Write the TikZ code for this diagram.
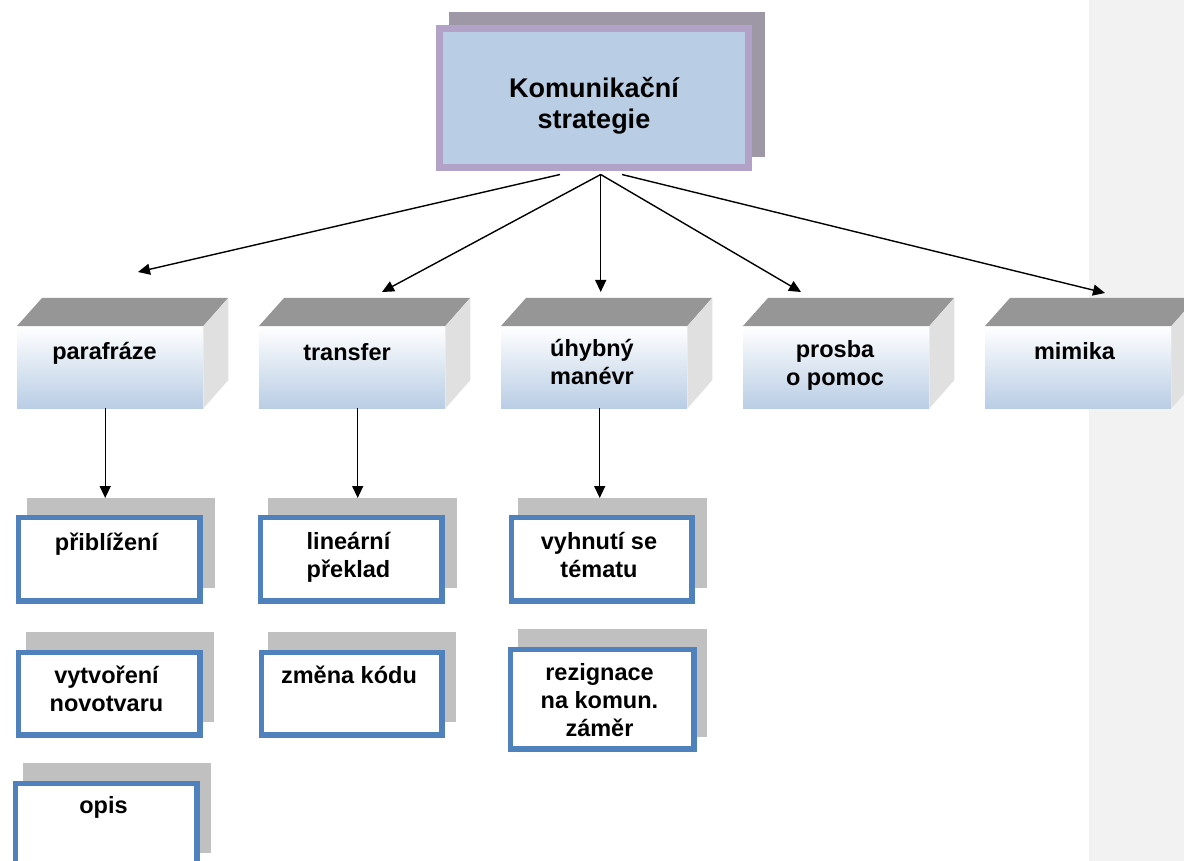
\documentclass[tikz,border=0pt]{standalone}
\usepackage{fontspec}
\setmainfont{Liberation Sans}
\usetikzlibrary{arrows.meta}
\definecolor{topface}{RGB}{150,150,150}
\definecolor{sideface}{RGB}{224,224,224}
\definecolor{lblue}{RGB}{185,205,229}
\definecolor{purp}{RGB}{178,162,199}
\definecolor{tshadow}{RGB}{158,152,166}
\definecolor{bshadow}{RGB}{192,192,192}
\definecolor{bborder}{RGB}{79,129,189}
\definecolor{panel}{RGB}{242,242,242}
\newcommand\lrule{\rule{0pt}{25pt}}
\begin{document}
\begin{tikzpicture}[x=1pt,y=-1pt,
  arr/.style={line width=1.4pt, -{Triangle[length=12pt,width=11pt]}},
  lbl/.style={inner sep=0pt, anchor=north, align=center, font=\bfseries\fontsize{23.5pt}{28pt}\selectfont},
  front/.style={inner sep=0pt, minimum width=186pt, minimum height=82pt, anchor=north west, top color=white, bottom color=lblue},
  bluebox/.style={draw=bborder, line width=5.5pt, fill=white, inner sep=0pt, anchor=north west},
  shadowbox/.style={fill=bshadow, inner sep=0pt, anchor=north west},
  topf/.style={fill=topface},
  sidef/.style={fill=sideface},
]
\clip (0,0) rectangle (1184,861);
\fill[white] (0,0) rectangle (1184,861);
\fill[panel] (1089,0) rectangle (1184,861);

% top box
\node[fill=tshadow, inner sep=0pt, anchor=north west, minimum width=316pt, minimum height=145pt] (topsh) at (449,12) {};
\node[draw=purp, line width=7pt, fill=lblue, inner sep=0pt, minimum width=309pt, minimum height=139pt] (top) at (594,98) {};
\node[inner sep=0pt, anchor=north, align=center, font=\bfseries\fontsize{27pt}{31pt}\selectfont] (top-t) at (594,68) {\rule{0pt}{29pt}Komunikační\\strategie};

% 3D boxes
\foreach \n/\x in {parafraze/17, transfer/259, uhybny/501, prosba/743, mimika/985}{
  \node[front] (\n) at (\x,326) {};
  \fill[topf] (\n.north west) -- ++(25,-28) -- ++(186,0) -- (\n.north east) -- cycle;
  \fill[sidef] (\n.north east) -- ++(25,-28) -- ++(0,82) -- (\n.south east) -- cycle;
}
\node[lbl] (parafraze-t) at (104.5,334) {\lrule parafráze};
\node[lbl] (transfer-t) at (347,335) {\lrule transfer};
\node[lbl] (uhybny-t) at (592,331) {\lrule úhybný\\manévr};
\node[lbl] (prosba-t) at (835,332) {\lrule prosba\\o pomoc};
\node[lbl] (mimika-t) at (1074.5,334) {\lrule mimika};

% arrows from top
\coordinate (o) at ([yshift=-3.5pt]top.south);
\coordinate (oL) at ([xshift=-34pt]o);
\coordinate (oC) at ([xshift=6.7pt]o);
\coordinate (oR) at ([xshift=28pt]o);
\coordinate (tP) at (138,272);
\coordinate (tT) at (382,292);
\coordinate (tU) at (600.7,292);
\coordinate (tR) at (801,292);
\coordinate (tM) at (1105,293);
\draw[arr] (oL) -- (tP);
\draw[arr] (oC) -- (tT);
\draw[arr] (oC) -- (tU);
\draw[arr] (oC) -- (tR);
\draw[arr] (oR) -- (tM);

% shadows
\node[shadowbox, minimum width=188pt, minimum height=90pt] (sh1) at (27,498) {};
\node[shadowbox, minimum width=189pt, minimum height=90pt] (sh2) at (268,498) {};
\node[shadowbox, minimum width=189pt, minimum height=90pt] (sh3) at (518,498) {};
\node[shadowbox, minimum width=188pt, minimum height=90pt] (sh4) at (26,632) {};
\node[shadowbox, minimum width=188pt, minimum height=90pt] (sh5) at (268,632) {};
\node[shadowbox, minimum width=189pt, minimum height=108pt] (sh6) at (518,629) {};
\node[shadowbox, minimum width=188pt, minimum height=90pt] (sh7) at (23,763) {};

% vertical arrows
\draw[arr] ([xshift=-5pt]parafraze.south) -- ([xshift=-5pt]parafraze.south |- sh1.north);
\draw[arr] ([xshift=5.5pt]transfer.south) -- ([xshift=5.5pt]transfer.south |- sh2.north);
\draw[arr] ([xshift=5.5pt]uhybny.south) -- ([xshift=5.5pt]uhybny.south |- sh3.north);

% blue boxes
\node[bluebox, minimum width=181.5pt, minimum height=83.5pt] (b1) at (15.75,514.75) {};
\node[bluebox, minimum width=181.5pt, minimum height=83.5pt] (b2) at (257.75,514.75) {};
\node[bluebox, minimum width=180.5pt, minimum height=83.5pt] (b3) at (508.75,514.75) {};
\node[bluebox, minimum width=181.5pt, minimum height=82.5pt] (b4) at (15.75,649.75) {};
\node[bluebox, minimum width=180.5pt, minimum height=82.5pt] (b5) at (258.75,649.75) {};
\node[bluebox, minimum width=183.5pt, minimum height=99.5pt] (b6) at (507.75,646.75) {};
\node[bluebox, minimum width=181.5pt, minimum height=84.5pt] (b7) at (12.75,780.75) {};

\node[lbl] (b1-t) at (106.5,525) {\lrule přiblížení};
\node[lbl] (b2-t) at (348.5,524) {\lrule lineární\\překlad};
\node[lbl] (b3-t) at (599,524) {\lrule vyhnutí se\\tématu};
\node[lbl] (b4-t) at (106.5,658) {\lrule vytvoření\\novotvaru};
\node[lbl] (b5-t) at (349,658) {\lrule změna kódu};
\node[lbl] (b6-t) at (599.5,655) {\lrule rezignace\\na komun.\\záměr};
\node[lbl] (b7-t) at (103.5,788) {\lrule opis};
\end{tikzpicture}
\end{document}
